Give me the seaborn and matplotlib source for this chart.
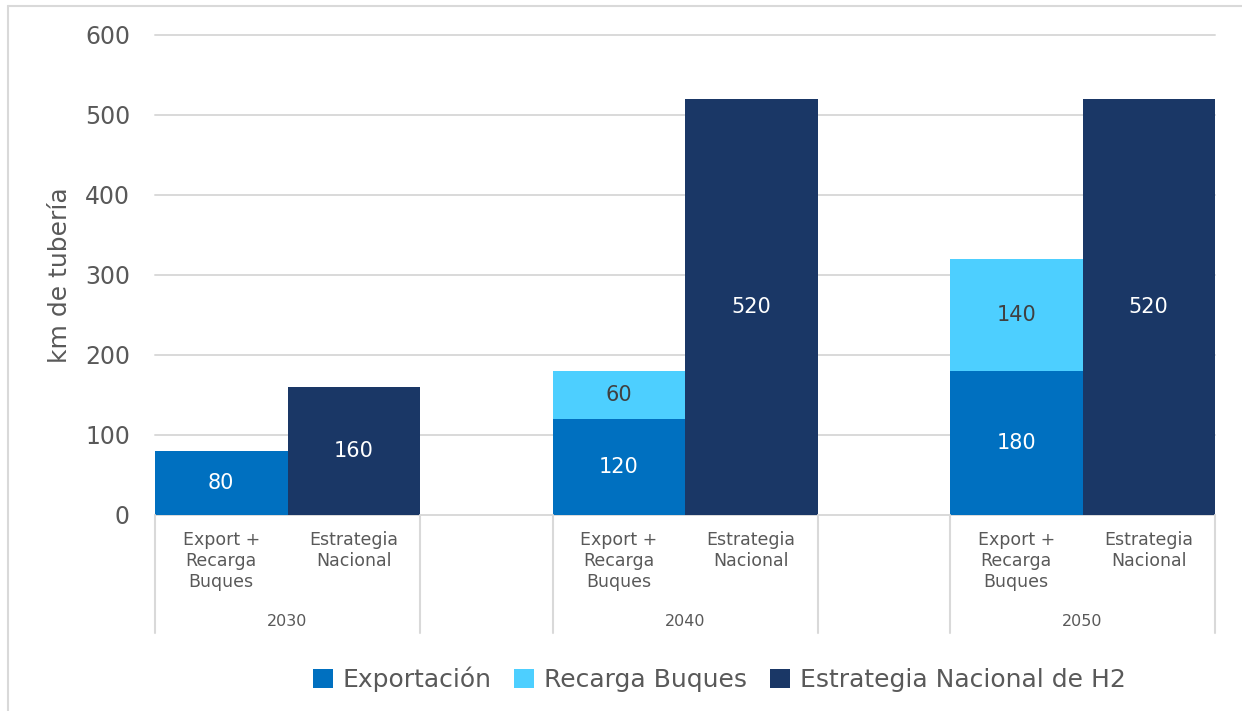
import matplotlib
matplotlib.use("Agg")
import matplotlib.pyplot as plt
import matplotlib.transforms as mtransforms
from matplotlib.lines import Line2D
from matplotlib.patches import Patch
import pandas as pd
import seaborn as sns

# --- data -------------------------------------------------------------
years = ["2030", "2040", "2050"]
sub_labels = ["Export +\nRecarga\nBuques", "Estrategia\nNacional"]
exportacion = [80, 120, 180]
recarga = [0, 60, 140]
estrategia = [160, 520, 520]
series_names = ["Exportación", "Recarga Buques", "Estrategia Nacional de H2"]
yticks = [0, 100, 200, 300, 400, 500, 600]
ylabel = "km de tubería"

# --- style ------------------------------------------------------------
sns.set_theme(style="white")
plt.rcParams["font.family"] = ["DejaVu Sans"]
TXT = "#595959"
GRID = "#D9D9D9"
C_EXP = "#0070C0"
C_REC = "#4DCFFF"
C_EST = "#1A3766"

# slot layout: two bars per year, one empty slot between years
exp_slots = [0, 3, 6]
est_slots = [1, 4, 7]
order = list(range(8))

df_exp = pd.DataFrame({"slot": exp_slots, "exp": exportacion,
                       "total": [e + r for e, r in zip(exportacion, recarga)]})
df_est = pd.DataFrame({"slot": est_slots, "est": estrategia})

fig = plt.figure(figsize=(12.42, 7.11), dpi=100)
ax = fig.add_axes([155 / 1242, 1 - 515 / 711, 1060 / 1242, 480 / 711])

# outer light frame (left and top edges only)
fx, fy = 7.5 / 1242, 1 - 5.5 / 711
fig.lines.append(Line2D([fx, fx], [0, fy], transform=fig.transFigure,
                        color=GRID, linewidth=1.5))
fig.lines.append(Line2D([fx, 1.01], [fy, fy], transform=fig.transFigure,
                        color=GRID, linewidth=1.5))

ax.set_axisbelow(True)
for v in yticks:
    ax.axhline(v, color=GRID, linewidth=1.4, zorder=0, clip_on=False)

# stacked bars: total (recarga on top) first, exportación over it
sns.barplot(data=df_exp, x="slot", y="total", order=order, color=C_REC,
            width=1.0, errorbar=None, linewidth=0, saturation=1, ax=ax)
sns.barplot(data=df_exp, x="slot", y="exp", order=order, color=C_EXP,
            width=1.0, errorbar=None, linewidth=0, saturation=1, ax=ax)
sns.barplot(data=df_est, x="slot", y="est", order=order, color=C_EST,
            width=1.0, errorbar=None, linewidth=0, saturation=1, ax=ax)

# value labels
for s, e, r in zip(exp_slots, exportacion, recarga):
    ax.text(s, e / 2, f"{e}", ha="center", va="center", color="white", fontsize=15)
    if r > 0:
        ax.text(s, e + r / 2, f"{r}", ha="center", va="center", color="#404040", fontsize=15)
for s, v in zip(est_slots, estrategia):
    ax.text(s, v / 2, f"{v}", ha="center", va="center", color="white", fontsize=15)

ax.set_xlim(-0.5, 7.5)
ax.set_ylim(0, 600)
ax.set_yticks(yticks)
ax.set_yticklabels([str(t) for t in yticks], fontsize=17, color=TXT)
ax.tick_params(axis="y", length=0, pad=18)
ax.set_xticks([])
ax.set_xlabel("")
ax.set_ylabel(ylabel, fontsize=18, color=TXT, labelpad=9)
for sp in ax.spines.values():
    sp.set_visible(False)

# multi-level category axis
tr = mtransforms.blended_transform_factory(ax.transData, fig.transFigure)
for xs in [-0.5, 1.5, 2.5, 4.5, 5.5, 7.5]:
    ax.plot([xs, xs], [1 - 515 / 711, 1 - 633 / 711], color=GRID,
            linewidth=1.5, transform=tr, clip_on=False)
for i, yr in enumerate(years):
    a, b = exp_slots[i], est_slots[i]
    ax.text(a, 1 - 531 / 711, sub_labels[0], ha="center", va="top", color=TXT,
            fontsize=12.5, linespacing=1.2, transform=tr)
    ax.text(b, 1 - 531 / 711, sub_labels[1], ha="center", va="top", color=TXT,
            fontsize=12.5, linespacing=1.2, transform=tr)
    ax.text((a + b) / 2, 1 - 621 / 711, yr, ha="center", va="center", color=TXT,
            fontsize=11.5, transform=tr)

# legend
handles = [Patch(facecolor=c, edgecolor="none") for c in (C_EXP, C_REC, C_EST)]
fig.legend(handles, series_names, loc="center", ncol=3,
           bbox_to_anchor=(719 / 1242, 1 - 679 / 711), frameon=False,
           fontsize=18, labelcolor=TXT, handlelength=0.8, handleheight=0.8,
           handletextpad=0.4, columnspacing=0.9)

fig.savefig("out.png", dpi=100)
